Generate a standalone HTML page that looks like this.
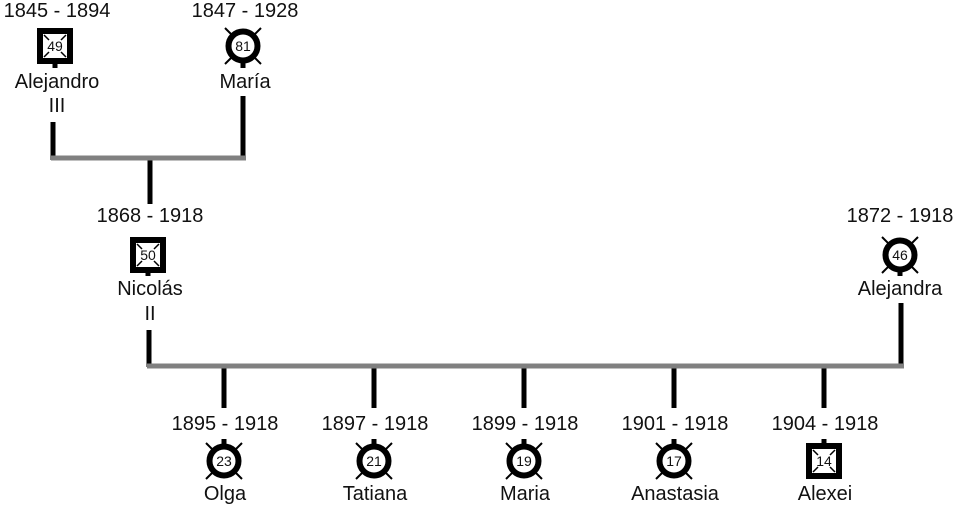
<!DOCTYPE html>
<html><head><style>body{margin:0;background:#fff}svg{display:block}text{font-family:"Liberation Sans",Arial,sans-serif;font-size:20px;fill:#111;text-anchor:middle}.n{font-size:14px}</style></head>
<body>
<svg width="962" height="512" viewBox="0 0 962 512" xmlns="http://www.w3.org/2000/svg">
<defs>
<g id="sq">
<rect x="-15" y="-15" width="30" height="30" fill="#fff" stroke="#000" stroke-width="6"/>
<path d="M-11-11l5 5M11-11l-5 5M-11 11l5-5M11 11l-5-5" stroke="#000" stroke-width="1.5"/>
</g>
<g id="ci">
<path d="M-18-18l36 36M18-18l-36 36" stroke="#000" stroke-width="2"/>
<circle r="14.5" fill="#fff" stroke="#000" stroke-width="6"/>
</g>
</defs>
<g stroke="#000" stroke-width="5">
<line x1="55" y1="60" x2="55" y2="68"/><line x1="243" y1="60" x2="243" y2="68"/>
<line x1="53" y1="122" x2="53" y2="160"/><line x1="243" y1="96" x2="243" y2="160"/>
<line x1="150" y1="160" x2="150" y2="204"/>
<line x1="149" y1="330" x2="149" y2="367"/><line x1="901" y1="303" x2="901" y2="367"/>
<line x1="224" y1="367" x2="224" y2="408"/><line x1="374" y1="367" x2="374" y2="408"/><line x1="524" y1="367" x2="524" y2="408"/><line x1="674" y1="367" x2="674" y2="408"/><line x1="824" y1="367" x2="824" y2="408"/>
<line x1="224" y1="439" x2="224" y2="447"/><line x1="374" y1="439" x2="374" y2="447"/><line x1="524" y1="439" x2="524" y2="447"/><line x1="674" y1="439" x2="674" y2="447"/><line x1="824" y1="439" x2="824" y2="447"/>
<line x1="148" y1="269" x2="148" y2="276"/><line x1="900" y1="269" x2="900" y2="276"/>
</g>
<g stroke="#808080" stroke-width="5">
<line x1="51" y1="158" x2="246" y2="158"/>
<line x1="147" y1="366" x2="904" y2="366"/>
</g>
<use href="#sq" x="55" y="46"/><use href="#ci" x="243" y="46"/>
<use href="#sq" x="148" y="255"/><use href="#ci" x="900" y="255"/>
<use href="#ci" x="224" y="461"/><use href="#ci" x="374" y="461"/><use href="#ci" x="524" y="461"/><use href="#ci" x="674" y="461"/><use href="#sq" x="824" y="461"/>
<text class="n" x="55" y="51">49</text><text class="n" x="243" y="51">81</text>
<text class="n" x="148" y="260">50</text><text class="n" x="900" y="260">46</text>
<text class="n" x="224" y="466">23</text><text class="n" x="374" y="466">21</text><text class="n" x="524" y="466">19</text><text class="n" x="674" y="466">17</text><text class="n" x="824" y="466">14</text>
<text x="57" y="17">1845 - 1894</text><text x="245" y="17">1847 - 1928</text>
<text x="57" y="88">Alejandro</text><text x="57" y="112">III</text><text x="245" y="88">María</text>
<text x="150" y="222">1868 - 1918</text><text x="150" y="295">Nicolás</text><text x="150" y="320">II</text>
<text x="900" y="222">1872 - 1918</text><text x="900" y="295">Alejandra</text>
<text x="225" y="430">1895 - 1918</text><text x="375" y="430">1897 - 1918</text><text x="525" y="430">1899 - 1918</text><text x="675" y="430">1901 - 1918</text><text x="825" y="430">1904 - 1918</text>
<text x="225" y="500">Olga</text><text x="375" y="500">Tatiana</text><text x="525" y="500">Maria</text><text x="675" y="500">Anastasia</text><text x="825" y="500">Alexei</text>
</svg>
</body></html>
